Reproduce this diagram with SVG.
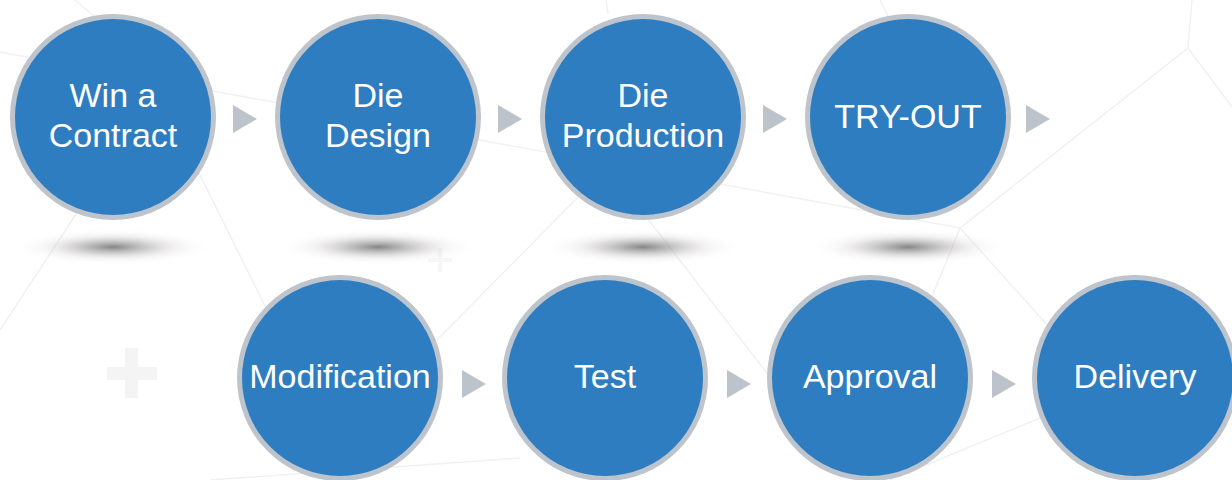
<svg xmlns="http://www.w3.org/2000/svg" width="1232" height="480" viewBox="0 0 1232 480">
<defs>
<style>
.bg{fill:none;stroke:#F0F0F0;stroke-width:1.4}
.plus{fill:#F4F4F4}
.plus2{fill:#F6F6F6}
.ring{fill:#BEC4CB}
.disc{fill:#2F7DC1}
.lbl{font-family:"Liberation Sans",Arial,sans-serif;font-size:34px;fill:#FFFFFF;text-anchor:middle}
.arr{fill:#BDC3CA}
</style>
<radialGradient id="sh" cx="0.5" cy="0.5" r="0.5">
<stop offset="0" stop-color="#787878" stop-opacity="0.9"/>
<stop offset="0.3" stop-color="#959595" stop-opacity="0.55"/>
<stop offset="0.65" stop-color="#cdc6c6" stop-opacity="0.2"/>
<stop offset="1" stop-color="#ffffff" stop-opacity="0"/>
</radialGradient>
</defs>
<rect width="1232" height="480" fill="#FFFFFF"/>
<g id="background">
<polyline class="bg" points="0,52 960,228 1188,48 1232,107"/>
<line class="bg" x1="1188" y1="48" x2="1192" y2="0"/>
<line class="bg" x1="75" y1="0" x2="110" y2="30"/>
<line class="bg" x1="195" y1="165" x2="272" y2="320"/>
<line class="bg" x1="0" y1="330" x2="80" y2="208"/>
<line class="bg" x1="585" y1="190" x2="437" y2="340"/>
<line class="bg" x1="620" y1="183" x2="790" y2="403"/>
<line class="bg" x1="960" y1="228" x2="930" y2="302"/>
<line class="bg" x1="960" y1="228" x2="1050" y2="328"/>
<line class="bg" x1="1040" y1="418" x2="890" y2="480"/>
<line class="bg" x1="210" y1="480" x2="520" y2="458"/>
<line class="bg" x1="880" y1="0" x2="888" y2="16"/>
<line class="bg" x1="606" y1="0" x2="608" y2="14"/>
<rect class="plus" x="125" y="348" width="13" height="50"/>
<rect class="plus" x="107" y="367" width="50" height="13"/>
<rect class="plus2" x="438" y="248" width="4" height="24"/>
<rect class="plus2" x="428" y="258" width="24" height="4"/>
</g>
<g id="shadows">
<ellipse cx="113" cy="247" rx="100" ry="18" fill="url(#sh)"/>
<ellipse cx="378" cy="247" rx="100" ry="18" fill="url(#sh)"/>
<ellipse cx="643" cy="247" rx="100" ry="18" fill="url(#sh)"/>
<ellipse cx="908" cy="247" rx="100" ry="18" fill="url(#sh)"/>
</g>
<g id="connectors">
<polygon class="arr" points="233,105 257,119 233,133"/>
<polygon class="arr" points="498,105 522,119 498,133"/>
<polygon class="arr" points="763,105 787,119 763,133"/>
<polygon class="arr" points="1026,105 1050,119 1026,133"/>
<polygon class="arr" points="462,370 486,384 462,398"/>
<polygon class="arr" points="727,370 751,384 727,398"/>
<polygon class="arr" points="992,370 1016,384 992,398"/>
</g>
<g id="node-win-contract">
<circle class="ring" cx="113" cy="117" r="103"/>
<circle class="disc" cx="113" cy="117" r="98"/>
<text class="lbl" x="113" y="107">Win a</text>
<text class="lbl" x="113" y="147">Contract</text>
</g>
<g id="node-die-design">
<circle class="ring" cx="378" cy="117" r="103"/>
<circle class="disc" cx="378" cy="117" r="98"/>
<text class="lbl" x="378" y="107">Die</text>
<text class="lbl" x="378" y="147">Design</text>
</g>
<g id="node-die-production">
<circle class="ring" cx="643" cy="117" r="103"/>
<circle class="disc" cx="643" cy="117" r="98"/>
<text class="lbl" x="643" y="107">Die</text>
<text class="lbl" x="643" y="147">Production</text>
</g>
<g id="node-try-out">
<circle class="ring" cx="908" cy="117" r="103"/>
<circle class="disc" cx="908" cy="117" r="98"/>
<text class="lbl" x="908" y="128">TRY-OUT</text>
</g>
<g id="node-modification">
<circle class="ring" cx="340" cy="378" r="103"/>
<circle class="disc" cx="340" cy="378" r="98"/>
<text class="lbl" x="340" y="388">Modification</text>
</g>
<g id="node-test">
<circle class="ring" cx="605" cy="378" r="103"/>
<circle class="disc" cx="605" cy="378" r="98"/>
<text class="lbl" x="605" y="388">Test</text>
</g>
<g id="node-approval">
<circle class="ring" cx="870" cy="378" r="103"/>
<circle class="disc" cx="870" cy="378" r="98"/>
<text class="lbl" x="870" y="388">Approval</text>
</g>
<g id="node-delivery">
<circle class="ring" cx="1135" cy="378" r="103"/>
<circle class="disc" cx="1135" cy="378" r="98"/>
<text class="lbl" x="1135" y="388">Delivery</text>
</g>
</svg>
